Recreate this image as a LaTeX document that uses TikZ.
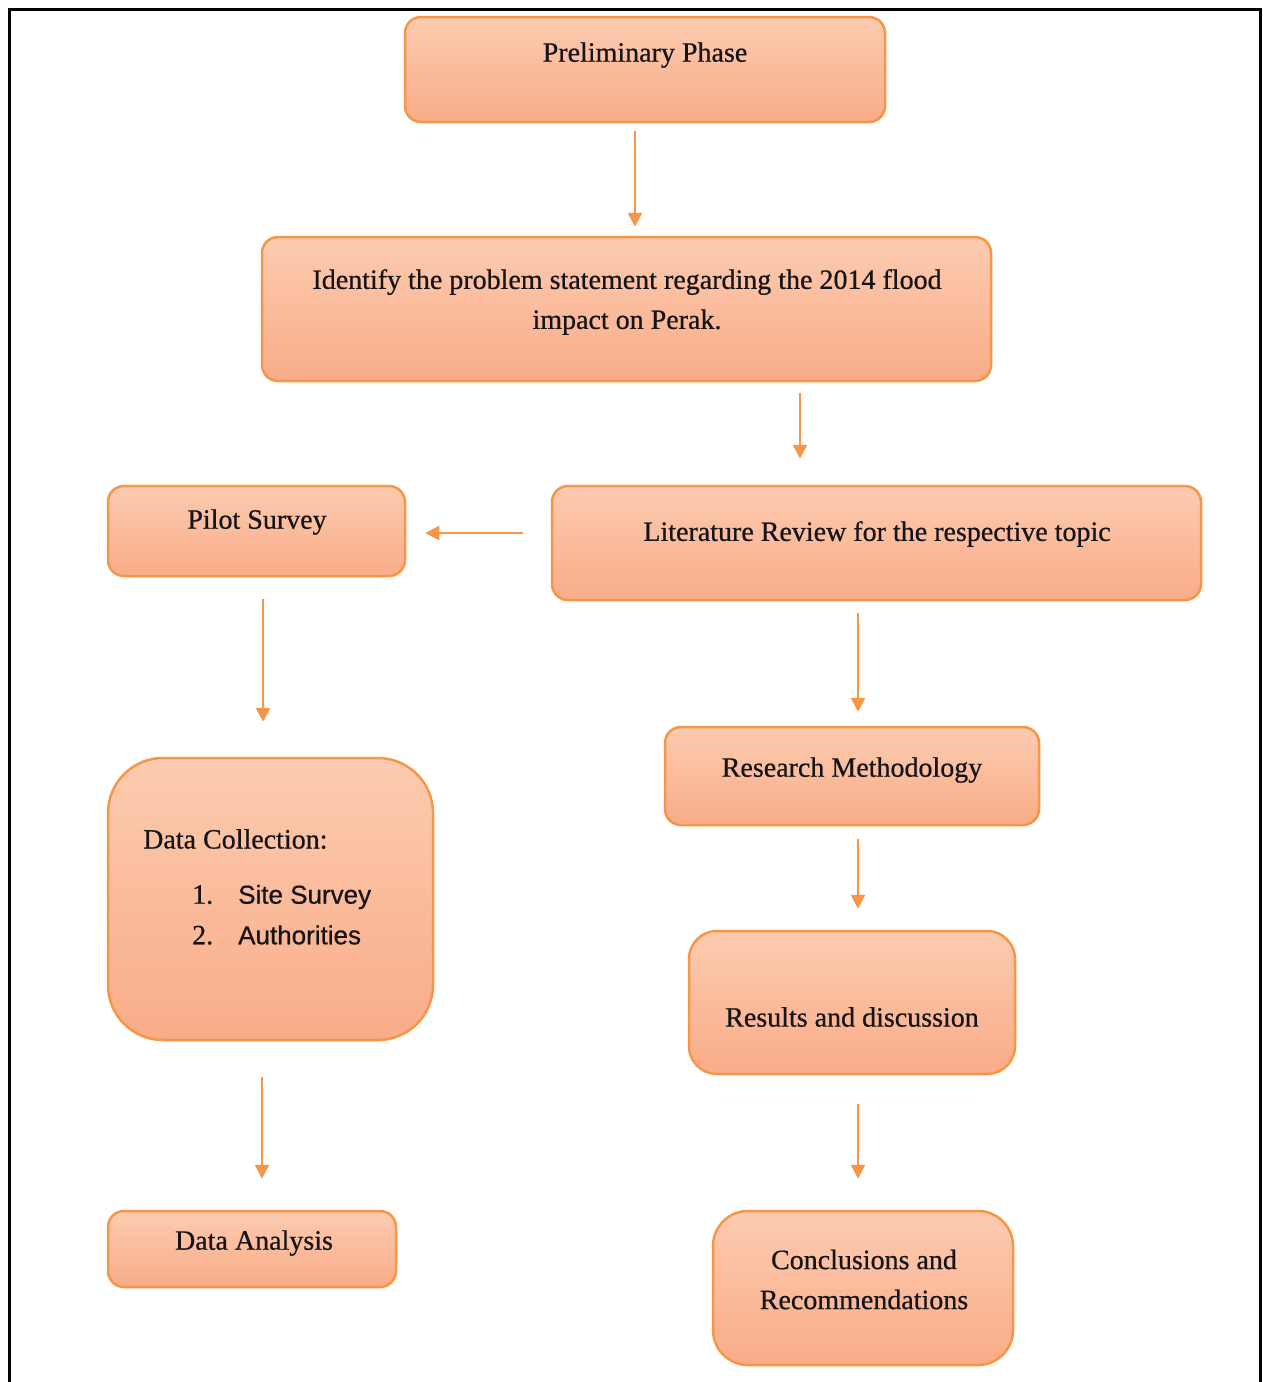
\documentclass[tikz,border=0pt]{standalone}
\usepackage{fontspec}
\setmainfont{Liberation Serif}
\setsansfont{Liberation Sans}
\newfontfamily\boxfont{Liberation Serif}[FakeBold=0.6]
\newfontfamily\boxsans{Liberation Sans}[FakeBold=0.6]
\usetikzlibrary{arrows.meta,calc}
\definecolor{boxtop}{RGB}{252,203,176}
\definecolor{boxbot}{RGB}{249,172,136}
\definecolor{boxline}{RGB}{247,150,70}
\definecolor{txt}{RGB}{20,20,25}
\begin{document}
\begin{tikzpicture}[x=1pt,y=-1pt,
  box/.style={draw=boxline, line width=2.5pt, top color=boxtop, bottom color=boxbot, rounded corners=16pt, inner sep=0pt},
  lbl/.style={font=\boxfont\fontsize{28}{40}\selectfont, align=center, inner sep=0pt, text=txt},
  slbl/.style={font=\boxsans\fontsize{26}{38}\selectfont, inner sep=0pt, text=txt},
  arr/.style={draw=boxline, line width=2.5pt, -{Triangle[width=14pt,length=14pt]}}]
\useasboundingbox (0,0) rectangle (1263,1382);
\fill[white] (0,0) rectangle (1263,1382);
\draw[line width=3pt] (9,1382) -- (9,9.5) -- (1260.5,9.5) -- (1260.5,1382);
% boxes
\node[box, minimum width=480, minimum height=105] (pp) at (645,69.5) {};
\node[box, minimum width=729, minimum height=144] (ip) at (626.5,309) {};
\node[box, minimum width=297, minimum height=90] (ps) at (256.5,531) {};
\node[box, minimum width=649, minimum height=114] (lr) at (876.5,543) {};
\node[box, minimum width=374, minimum height=98] (rm) at (852,776) {};
\node[box, minimum width=325, minimum height=282, rounded corners=55pt] (dc) at (270.5,899) {};
\node[box, minimum width=326, minimum height=143, rounded corners=28pt] (rd) at (852,1002.5) {};
\node[box, minimum width=288, minimum height=76] (da) at (252,1249) {};
\node[box, minimum width=300, minimum height=154, rounded corners=35pt] (cr) at (863,1288) {};
% texts
\node[lbl] (tpp) at (645,55) {Preliminary Phase};
\node[lbl] (tip) at (627,302) {Identify the problem statement regarding the 2014 flood\\impact on Perak.};
\node[lbl] (tps) at (257,522) {Pilot Survey};
\node[lbl] (tlr) at (877,534) {Literature Review for the respective topic};
\node[lbl] (trm) at (852,770) {Research Methodology};
\node[lbl, anchor=west] (tdc) at (143,839) {Data Collection:};
\node[slbl, anchor=west] (i1) at (238,897) {Site Survey};
\node[lbl, anchor=base west] (n1) at ([xshift=-46pt]i1.base west) {1.};
\node[slbl, anchor=west] (i2) at (238,935) {Authorities};
\node[lbl, anchor=base west] (n2) at ([xshift=-46pt]i2.base west) {2.};
\node[lbl] (trd) at (852,1017) {Results and discussion};
\node[lbl] (tda) at (254,1243) {Data Analysis};
\node[lbl] (tcr) at (864,1279.5) {Conclusions and\\Recommendations};
% arrows
\draw[arr] ($(pp.south)+(-10,8)$) -- ($(ip.north)+(8.5,-9)$);
\draw[arr] ($(ip.south)+(173.5,11)$) -- ($(lr.north)+(-76.5,-26)$);
\draw[arr] ($(lr.west)+(-28,-10)$) -- ($(ps.east)+(19,2)$);
\draw[arr] ($(lr.south)+(-18.5,12)$) -- ($(rm.north)+(6,-14)$);
\draw[arr] ($(ps.south)+(6.5,22)$) -- ($(dc.north)+(-7.5,-35)$);
\draw[arr] ($(rm.south)+(6,13)$) -- ($(rd.north)+(6,-21)$);
\draw[arr] ($(dc.south)+(-8.5,36)$) -- ($(da.north)+(10,-31)$);
\draw[arr] ($(rd.south)+(6,29)$) -- ($(cr.north)+(-5,-31)$);
\end{tikzpicture}
\end{document}
